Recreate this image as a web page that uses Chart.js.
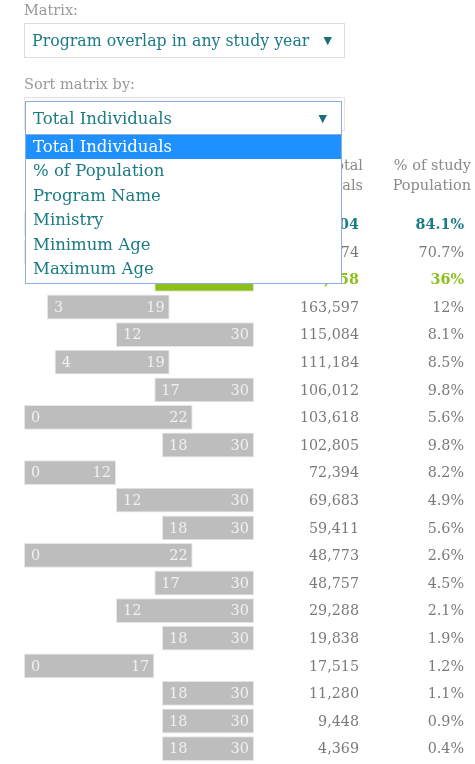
<!DOCTYPE html>
<html>
<head>
<meta charset="utf-8">
<script src="https://cdn.jsdelivr.net/npm/chart.js@4/dist/chart.umd.min.js"></script>
<style>
  html, body { margin:0; padding:0; background:#fff; }
  body { width:475px; height:764px; position:relative; overflow:hidden; font-family:"DejaVu Serif", serif; }
  #c { position:absolute; left:0; top:0; }
  .lbl { position:absolute; left:24px; color:#999; font-size:14.5px; }
  .sel { position:absolute; background:#fff; box-sizing:border-box; color:#1b7b85; }
  .sel .txt { position:absolute; left:7px; top:0; bottom:0; display:flex; align-items:center; white-space:nowrap; }
  .sel .arr { position:absolute; right:12px; top:0; bottom:0; display:flex; align-items:center; font-size:11px; color:#1b6f78; }
  .list { position:absolute; left:25px; top:134px; width:317px; height:150px; background:#fff; border:1px solid #8aaee3; box-sizing:border-box; }
  .item { height:24.4px; line-height:24.4px; padding-left:7px; color:#1b7b85; font-size:16.5px; white-space:nowrap; }
  .item.on { background:#1e90ff; color:#fff; }
</style>
</head>
<body>
<canvas id="c" width="475" height="764"></canvas>

<div class="lbl" style="top:2px;">Matrix:</div>
<div class="sel" style="left:24px; top:23px; width:321px; height:35px; border:1px solid #dedede; font-size:15.8px;">
  <div class="txt">Program overlap in any study year</div><div class="arr">&#9660;</div>
</div>
<div class="lbl" style="top:76px;">Sort matrix by:</div>
<div class="sel" style="left:24px; top:97px; width:321px; height:34px; border:1px solid #e4e4e4;"></div>
<div class="sel" style="left:25px; top:101px; width:317px; height:34px; border:1px solid #8aaee3; font-size:16.5px;">
  <div class="txt">Total Individuals</div><div class="arr" style="right:14px;">&#9660;</div>
</div>
<div class="list">
  <div class="item on">Total Individuals</div>
  <div class="item">% of Population</div>
  <div class="item">Program Name</div>
  <div class="item">Ministry</div>
  <div class="item">Minimum Age</div>
  <div class="item">Maximum Age</div>
</div>

<script>
// ---- data ----
const categories = ['Row 1','Row 2','Row 3','Row 4','Row 5','Row 6','Row 7','Row 8','Row 9','Row 10',
                    'Row 11','Row 12','Row 13','Row 14','Row 15','Row 16','Row 17','Row 18','Row 19','Row 20'];
const minAge = [0, 0, 17, 3, 12, 4, 17, 0, 18, 0, 12, 18, 0, 17, 12, 18, 0, 18, 18, 18];
const maxAge = [30, 30, 30, 19, 30, 19, 30, 22, 30, 12, 30, 30, 22, 30, 30, 30, 17, 30, 30, 30];
const totalIndividuals = [1146204, 963674, 490658, 163597, 115084, 111184, 106012, 103618, 102805, 72394,
                          69683, 59411, 48773, 48757, 29288, 19838, 17515, 11280, 9448, 4369];
const pctPopulation = [84.1, 70.7, 36, 12, 8.1, 8.5, 9.8, 5.6, 9.8, 8.2, 4.9, 5.6, 2.6, 4.5, 2.1, 1.9, 1.2, 1.1, 0.9, 0.4];
const headerTotal = ['Total', 'Individuals'];
const headerPct = ['% of study', 'Population'];

const TEAL = '#1b7b85', GREEN = '#8cbf1a', GREY = '#bdbdbd';
const rowColor = i => i === 0 ? TEAL : (i === 2 ? GREEN : GREY);
const rowText = i => i === 0 ? TEAL : (i === 2 ? GREEN : '#7a7a7a');
const FONT = '"DejaVu Serif", serif';

const tablePlugin = {
  id: 'tablePlugin',
  afterDatasetsDraw(chart) {
    const ctx = chart.ctx;
    const meta = chart.getDatasetMeta(0);
    const y = chart.scales.y;
    ctx.save();
    ctx.textBaseline = 'middle';
    meta.data.forEach((bar, i) => {
      const props = bar.getProps(['x', 'base', 'y'], true);
      const left = Math.min(props.x, props.base), right = Math.max(props.x, props.base);
      ctx.font = '14.5px ' + FONT;
      ctx.fillStyle = '#f0f0f0';
      ctx.textAlign = 'left';
      ctx.fillText(String(minAge[i]), left + 7, props.y + 1);
      ctx.textAlign = 'right';
      ctx.fillText(String(maxAge[i]), right - 5, props.y + 1);
      const cy = y.getPixelForValue(i) + 1;
      const bold = (i === 0 || i === 2) ? 'bold ' : '';
      ctx.font = bold + '14.3px ' + FONT;
      ctx.fillStyle = rowText(i);
      ctx.fillText(totalIndividuals[i].toLocaleString('en-US'), 359, cy);
      ctx.fillText(pctPopulation[i] + '%', 464, cy);
    });
    ctx.font = '14.5px ' + FONT;
    ctx.fillStyle = '#8a8a8a';
    ctx.textAlign = 'right';
    headerTotal.forEach((t, k) => ctx.fillText(t, 363, 166 + k * 20));
    headerPct.forEach((t, k) => ctx.fillText(t, 471, 166 + k * 20));
    ctx.restore();
  }
};

new Chart(document.getElementById('c'), {
  type: 'bar',
  data: {
    labels: categories,
    datasets: [{
      data: categories.map((_, i) => [minAge[i], maxAge[i]]),
      backgroundColor: categories.map((_, i) => rowColor(i)),
      borderColor: '#e6e6e6',
      borderWidth: 1,
      borderSkipped: false,
      barPercentage: 0.9,
      categoryPercentage: 1.0
    }]
  },
  options: {
    indexAxis: 'y',
    responsive: false,
    animation: false,
    devicePixelRatio: 1,
    layout: { padding: { left: 24, right: 221, top: 210.4, bottom: 1.6 } },
    plugins: { legend: { display: false }, tooltip: { enabled: false } },
    scales: {
      x: { type: 'linear', min: 0, max: 30, display: false },
      y: { type: 'category', display: false, offset: true }
    }
  },
  plugins: [tablePlugin]
});
</script>
</body>
</html>
